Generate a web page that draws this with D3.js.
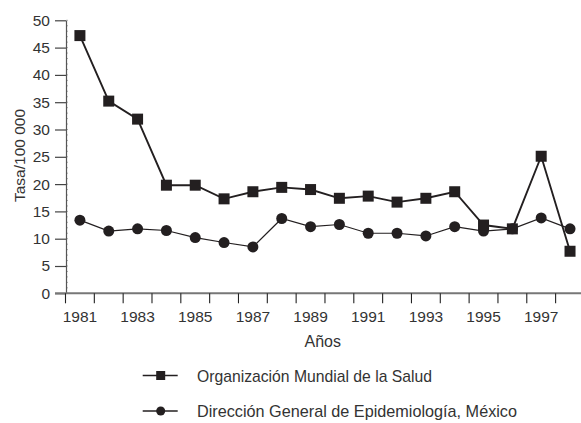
<!DOCTYPE html>
<html><head><meta charset="utf-8">
<script src="https://cdn.jsdelivr.net/npm/d3@7"></script>
<style>body{margin:0;background:#fff}svg{display:block}text{font-family:"Liberation Sans",Arial,sans-serif;fill:#333}</style>
</head><body><svg id="c" width="581" height="423"></svg>
<script>
const years = [1981,1982,1983,1984,1985,1986,1987,1988,1989,1990,1991,1992,1993,1994,1995,1996,1997,1998];
const oms = [47.2,35.2,31.9,19.8,19.8,17.3,18.6,19.4,19.0,17.4,17.8,16.7,17.4,18.6,12.5,11.8,25.1,7.7];
const dge = [13.4,11.4,11.8,11.5,10.2,9.3,8.5,13.7,12.2,12.6,11.0,11.0,10.5,12.2,11.4,11.8,13.8,11.8];
const yTicks = [0,5,10,15,20,25,30,35,40,45,50];
const xLabelYears = [1981,1983,1985,1987,1989,1991,1993,1995,1997];
const seriesNames = ["Organización Mundial de la Salud","Dirección General de Epidemiología, México"];

const FONT = '"Liberation Sans",Arial,sans-serif';
const svg = d3.select("#c");
const x = d3.scaleBand().domain(years).range([65.5, 65.5 + 18*28.83]).padding(0);
const y = d3.scaleLinear().domain([0,50]).range([293.3, 20.3]);
const cx = d => x(d) + x.bandwidth()/2;
const ink = "#231f20";

// minor y ticks
svg.append("g").selectAll("line").data(d3.range(0,51,1)).join("line")
  .attr("x1",66).attr("x2",68).attr("y1",d=>y(d)).attr("y2",d=>y(d))
  .attr("stroke","#999").attr("stroke-width",0.8);

// y axis
const ya = svg.append("g").attr("transform","translate(66,0)")
  .call(d3.axisLeft(y).tickValues(yTicks).tickSize(11).tickPadding(5).tickSizeOuter(0));
ya.select(".domain").attr("stroke","#555").attr("stroke-width",1.2);
ya.selectAll(".tick line").attr("stroke","#444").attr("stroke-width",1.2);
ya.selectAll(".tick text").style("font-size","15.5px").attr("fill","#333").style("font-family",FONT);

// x axis line
svg.append("line").attr("x1",55).attr("x2",581).attr("y1",y(0)).attr("y2",y(0))
  .attr("stroke","#777").attr("stroke-width",2);
const xa = svg.append("g").attr("transform",`translate(0,${y(0)})`)
  .call(d3.axisBottom(x).tickValues(years).tickSize(0).tickFormat(d=>xLabelYears.includes(d)?d:""));
xa.select(".domain").remove();
xa.selectAll(".tick line").remove();
xa.selectAll(".tick text").attr("y",18).attr("dy","0.71em").style("font-size","15.5px").attr("fill","#333").style("font-family",FONT);
svg.append("g").selectAll("line").data(years).join("line")
  .attr("x1",d=>x(d)).attr("x2",d=>x(d)).attr("y1",y(0)).attr("y2",y(0)+10)
  .attr("stroke","#222").attr("stroke-width",1.1);

// axis titles
svg.append("text").attr("x",322.7).attr("y",347).attr("text-anchor","middle").style("font-size","16px").text("Años");
svg.append("text").attr("transform","translate(24.5,155.5) rotate(-90)").attr("text-anchor","middle")
  .style("font-size","15.5px").text("Tasa/100 000");

// lines
const line = d3.line().x((d,i)=>cx(years[i])).y(d=>y(d));
svg.append("path").datum(dge).attr("d",line).attr("fill","none").attr("stroke",ink).attr("stroke-width",1.2);
svg.append("path").datum(oms).attr("d",line).attr("fill","none").attr("stroke",ink).attr("stroke-width",1.9);

svg.append("g").selectAll("circle").data(dge).join("circle")
  .attr("cx",(d,i)=>cx(years[i])).attr("cy",d=>y(d)).attr("r",5.5).attr("fill",ink);
const s = 11;
svg.append("g").selectAll("rect").data(oms).join("rect")
  .attr("x",(d,i)=>cx(years[i])-s/2).attr("y",d=>y(d)-s/2).attr("width",s).attr("height",s).attr("fill",ink);

// legend
const lg = svg.append("g");
const legendLen = [235, 320];
[375.5,411].forEach((ly,k)=>{
  lg.append("line").attr("x1",142.7).attr("x2",177.7).attr("y1",ly).attr("y2",ly).attr("stroke",ink).attr("stroke-width",1.5);
  if(k===0) lg.append("rect").attr("x",160.7-4.5).attr("y",ly-4.5).attr("width",9).attr("height",9).attr("fill",ink);
  else lg.append("circle").attr("cx",160.7).attr("cy",ly).attr("r",4.5).attr("fill",ink);
  lg.append("text").attr("x",197).attr("y",ly+6).style("font-size","17px")
    .attr("textLength",legendLen[k]).attr("lengthAdjust","spacingAndGlyphs").text(seriesNames[k]);
});
</script></body></html>
